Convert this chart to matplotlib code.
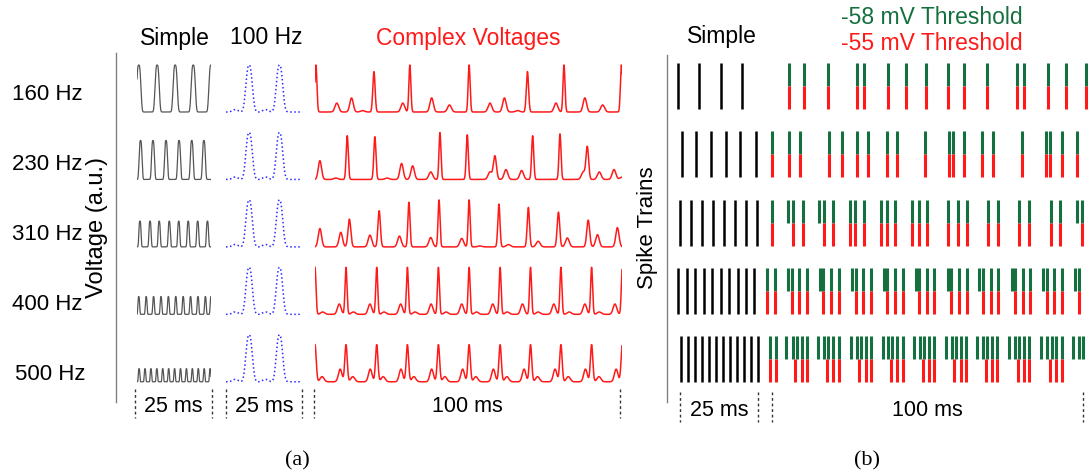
import numpy as np
import matplotlib.pyplot as plt
from matplotlib.lines import Line2D

plt.rcParams['font.family'] = ['Liberation Sans', 'DejaVu Sans']

W, H = 1089, 473

freq_labels = ["160 Hz", "230 Hz", "310 Hz", "400 Hz", "500 Hz"]

# simple driving voltages (25 ms window): peak times in ms and peak height
simple_peak_times = [
    [0.6, 6.8, 12.9, 19.0, 25.0],
    [1.2, 5.4, 9.8, 14.2, 18.5, 22.6],
    [1.0, 4.4, 7.5, 10.9, 14.1, 17.3, 20.5, 23.8],
    [0.6, 3.1, 5.6, 8.1, 10.6, 13.1, 15.6, 18.1, 20.6, 23.1, 25.0],
    [0.7, 2.7, 4.7, 6.7, 8.7, 10.7, 12.7, 14.7, 16.7, 18.7, 20.7, 22.7, 24.7],
]
simple_peak_height = [1.0, 0.83, 0.55, 0.38, 0.28]
simple_width = [0.85, 0.6, 0.45, 0.36, 0.31]

# 100 Hz reference voltage, identical in every row
ref_peak_times = [3.0, 7.6, 13.0, 17.6]
ref_peak_amps = [0.05, 1.0, 0.05, 1.0]

# complex voltages (100 ms window)
complex_times = [
    [0.3, 7.1, 11.9, 15.5, 19.2, 28.6, 30.9, 38.0, 43.8, 50.2, 57.0, 61.7, 66.0,
     69.2, 78.5, 81.1, 87.9, 93.7, 99.8],
    [1.6, 6.8, 10.5, 19.5, 23.5, 28.2, 31.8, 37.7, 40.7, 49.6, 57.0, 58.6, 62.2,
     67.3, 70.9, 79.8, 87.4, 88.7, 92.6, 97.4, 100.0],
    [1.6, 8.4, 11.2, 17.9, 20.9, 27.5, 30.6, 37.7, 40.4, 47.8, 50.2, 53.7, 59.9,
     63.0, 69.5, 72.7, 79.3, 82.2, 89.0, 92.0, 98.5],
    [0.0, 2.5, 7.9, 10.1, 12.5, 17.9, 20.1, 22.5, 27.9, 30.1, 32.6, 37.8, 40.2,
     42.7, 47.8, 50.2, 52.6, 57.9, 60.3, 62.6, 67.6, 70.2, 72.7, 77.8, 80.1, 82.8,
     87.9, 90.1, 92.6, 97.7, 100.1],
    [0.0, 2.3, 8.2, 10.1, 12.3, 18.0, 20.1, 22.2, 28.0, 30.1, 32.2, 38.0, 40.2,
     42.3, 48.1, 50.2, 52.4, 58.1, 60.3, 62.5, 68.1, 70.2, 72.5, 78.2, 80.1, 82.5,
     88.1, 90.1, 92.5, 98.1, 100.1],
]
complex_amps = [
    [1.0, 0.19, 0.30, 0.03, 0.86, 0.19, 1.0, 0.30, 0.15, 1.0, 0.19, 0.30, 0.03,
     0.86, 0.19, 1.0, 0.30, 0.15, 1.0],
    [0.40, 0.03, 0.93, 0.91, 0.03, 0.34, 0.29, 0.16, 1.0, 0.95, 0.16, 0.50, 0.21,
     0.19, 0.93, 0.97, 0.16, 0.69, 0.16, 0.21, 0.05],
    [0.39, 0.31, 0.59, 0.25, 0.77, 0.23, 0.95, 0.20, 1.0, 0.18, 1.0, 0.02, 0.91,
     0.05, 0.84, 0.12, 0.74, 0.19, 0.57, 0.26, 0.41],
    [1.0, 0.05, 0.22, 1.0, 0.05, 0.22, 1.0, 0.05, 0.22, 1.0, 0.05, 0.22, 1.0,
     0.05, 0.22, 1.0, 0.05, 0.22, 1.0, 0.05, 0.22, 1.0, 0.05, 0.22, 1.0, 0.05,
     0.22, 1.0, 0.05, 0.22, 1.0],
    [0.79, 0.11, 0.27, 0.79, 0.11, 0.27, 0.79, 0.11, 0.27, 0.79, 0.11, 0.27, 0.79,
     0.11, 0.27, 0.79, 0.11, 0.27, 0.79, 0.11, 0.27, 0.79, 0.11, 0.27, 0.79, 0.11,
     0.27, 0.79, 0.11, 0.27, 0.79],
]

# spike trains (ms)
simple_spikes = [
    [0.1, 6.7, 13.3, 19.9],
    [1.2, 5.6, 10.3, 14.9, 19.4, 24.3],
    [0.6, 4.0, 7.5, 10.9, 14.4, 17.8, 21.2, 24.7],
    [0.1, 2.7, 5.4, 8.0, 10.7, 13.3, 15.9, 18.6, 21.2, 23.8],
    [0.8, 3.0, 5.2, 7.4, 9.6, 11.8, 14.0, 16.2, 18.4, 20.6, 22.8, 25.0],
]
spikes_58 = [
    [5.5, 10.4, 17.9, 27.4, 29.6, 37.3, 42.9, 49.3, 56.5, 61.5, 69.0, 78.4, 80.9,
     88.4, 94.1, 100.5],
    [0.1, 5.4, 9.0, 18.3, 22.3, 27.1, 30.9, 36.8, 40.0, 49.0, 56.8, 58.1, 61.6,
     67.2, 70.7, 80.0, 87.7, 89.1, 92.8, 97.9],
    [0.0, 5.2, 6.8, 9.8, 15.2, 16.7, 19.6, 25.0, 26.6, 29.6, 34.9, 36.8, 39.4,
     45.0, 47.1, 49.6, 56.5, 59.5, 62.6, 69.3, 72.4, 79.3, 82.4, 89.3, 92.2, 97.7,
     99.3],
    [-1.5, 1.0, 5.2, 6.3, 8.8, 11.1, 15.4, 16.5, 18.9, 21.5, 25.8, 26.8, 29.3,
     31.7, 35.9, 36.8, 39.4, 41.9, 46.2, 47.2, 49.6, 52.0, 56.3, 57.4, 59.9, 62.4,
     66.4, 67.5, 70.1, 72.5, 76.8, 77.9, 80.3, 82.7, 87.0, 88.0, 90.5, 93.0, 97.1,
     98.4],
    [-0.6, 1.3, 4.5, 6.8, 8.1, 9.5, 11.1, 14.9, 16.7, 18.1, 19.7, 21.6, 25.2,
     27.1, 28.4, 30.0, 31.6, 35.5, 37.3, 38.6, 40.2, 41.9, 45.5, 47.4, 48.7, 50.3,
     51.9, 55.8, 57.6, 58.9, 60.5, 62.2, 65.8, 67.7, 69.0, 70.6, 72.2, 76.1, 77.9,
     79.2, 80.8, 82.5, 86.2, 88.3, 89.6, 91.0, 92.8, 96.6, 98.5, 99.8],
]
spikes_55 = [
    spikes_58[0],
    spikes_58[1],
    [0.0, 6.8, 9.8, 16.7, 19.6, 25.0, 26.6, 29.6, 34.9, 36.8, 39.4, 45.0, 47.1,
     49.6, 56.5, 59.5, 62.6, 69.3, 72.4, 79.3, 82.4, 89.3, 92.2, 99.3],
    [-1.5, 1.0, 6.3, 8.8, 11.1, 16.5, 18.9, 21.5, 26.8, 29.3, 31.7, 36.8, 39.4,
     41.9, 47.2, 49.6, 52.0, 57.4, 59.9, 62.4, 67.5, 70.1, 72.5, 77.9, 80.3, 82.7,
     88.0, 90.5, 93.0, 98.4],
    [-0.6, 1.3, 7.4, 9.5, 11.1, 17.5, 19.7, 21.6, 28.0, 30.0, 31.6, 38.0, 40.2,
     41.9, 48.3, 50.3, 51.9, 58.3, 60.5, 62.2, 68.6, 70.6, 72.2, 78.7, 80.8, 82.5,
     89.1, 91.0, 92.8],
]

GREEN = '#15703f'
RED = '#ff1a1a'
ROW_GAP = 1.435


def px_axes(x0, x1, y0, y1):
    return fig.add_axes([x0 / W, 1 - y1 / H, (x1 - x0) / W, (y1 - y0) / H])


def px_text(x, y, s, **kw):
    fig.text(x / W, 1 - y / H, s, ha='center', va='center', **kw)


def trace(t, times, amps, widths, power=2.0):
    # sum of pulses exp(-|dt/w|^power)
    v = np.zeros_like(t)
    for tk, a, w in zip(times, amps, widths):
        v += a * np.exp(-np.abs((t - tk) / w) ** power)
    return v


def scalebar(ax, xa, xb, y0, y1, ytxt, label):
    ax.plot([xa, xa], [y0, y1], color='#333333', lw=1, ls=(0, (2, 2)), clip_on=False)
    ax.plot([xb, xb], [y0, y1], color='#333333', lw=1, ls=(0, (2, 2)), clip_on=False)
    ax.text((xa + xb) / 2, ytxt, label, ha='center', va='center', fontsize=15.5)


fig = plt.figure(figsize=(W / 100, H / 100), dpi=100)

# ---- (a) voltages ----
ylim_a = ((112 - 425) / 47, (112 - 50) / 47)
ax_s = px_axes(137, 211, 50, 425)
ax_r = px_axes(226, 302, 50, 425)
ax_c = px_axes(315, 622, 50, 425)
for ax, xmax in ((ax_s, 25), (ax_r, 25), (ax_c, 100)):
    ax.set_xlim(0, xmax)
    ax.set_ylim(*ylim_a)
    ax.axis('off')

t25 = np.linspace(0, 25, 800)
t100 = np.linspace(0, 100, 3000)
for r in range(5):
    base = -r * ROW_GAP
    n = len(simple_peak_times[r])
    v = trace(t25, simple_peak_times[r], [simple_peak_height[r]] * n,
              [simple_width[r]] * n, power=3.0)
    ax_s.plot(t25, base + v, color='#555555', lw=0.9)

    v = trace(t25, ref_peak_times, ref_peak_amps, [1.3, 1.35, 1.3, 1.35], power=2.5)
    ax_r.plot(t25, base + v, color='#2b2bff', lw=1.1, ls=':')

    amps = complex_amps[r]
    widths = [0.45 + 0.5 * (1 - a) for a in amps]
    v = trace(t100, complex_times[r], amps, widths)
    ax_c.plot(t100, base + v, color=RED, lw=1.1)

yb0, yb1, ybt = (112 - 389) / 47, (112 - 418) / 47, (112 - 407) / 47
scalebar(ax_s, -0.8, 25.5, yb0, yb1, ybt, "25 ms")
scalebar(ax_r, 0, 25, yb0, yb1, ybt, "25 ms")
scalebar(ax_c, -0.2, 99.4, yb0, yb1, ybt, "100 ms")

fig.add_artist(Line2D([116 / W] * 2, [1 - 53 / H, 1 - 402 / H], color='#808080', lw=1))
for r, lab in enumerate(freq_labels):
    px_text(47 + (3 if r == 4 else 0), 94 + 70 * r, lab, fontsize=16)
px_text(97, 227, "Voltage (a.u.)", fontsize=17, rotation=90)
px_text(175, 38, "Simple", fontsize=16.5)
px_text(266, 38, "100 Hz", fontsize=16.5)
px_text(468, 38, "Complex Voltages", fontsize=16.5, color=RED)
px_text(297, 461, "(a)", fontsize=16, family='Liberation Serif')

# ---- (b) spike trains ----
ylim_b = ((425 - 86) / 68.3, (50 - 86) / 68.3)
half = 23 / 68.3
ax_bs = px_axes(678, 758, 50, 425)
ax_bc = px_axes(772, 1084, 50, 425)
ax_bs.set_xlim(0, 25)
ax_bc.set_xlim(0, 100)
for ax in (ax_bs, ax_bc):
    ax.set_ylim(*ylim_b)
    ax.axis('off')

for r in range(5):
    ax_bs.vlines(simple_spikes[r], r - half, r + half, color='black', lw=1.8,
                 clip_on=False)
    ax_bc.vlines(spikes_58[r], r - half, r, color=GREEN, lw=2.2, clip_on=False)
    ax_bc.vlines(spikes_55[r], r, r + half, color=RED, lw=2.2, clip_on=False)

yb0, yb1, ybt = (391.7 - 86) / 68.3, (421.7 - 86) / 68.3, (410 - 86) / 68.3
scalebar(ax_bs, 0.6, 25.0, yb0, yb1, ybt, "25 ms")
scalebar(ax_bc, -0.1, 99.7, yb0, yb1, ybt, "100 ms")

fig.add_artist(Line2D([667 / W] * 2, [1 - 55 / H, 1 - 402 / H], color='#808080', lw=1))
px_text(648, 228, "Spike Trains", fontsize=16, rotation=90)
px_text(722, 37, "Simple", fontsize=16.5)
px_text(932, 18, "-58 mV Threshold", fontsize=16.5, color=GREEN)
px_text(932, 43, "-55 mV Threshold", fontsize=16.5, color=RED)
px_text(867, 461, "(b)", fontsize=16, family='Liberation Serif')

fig.savefig("out.png", dpi=100)
